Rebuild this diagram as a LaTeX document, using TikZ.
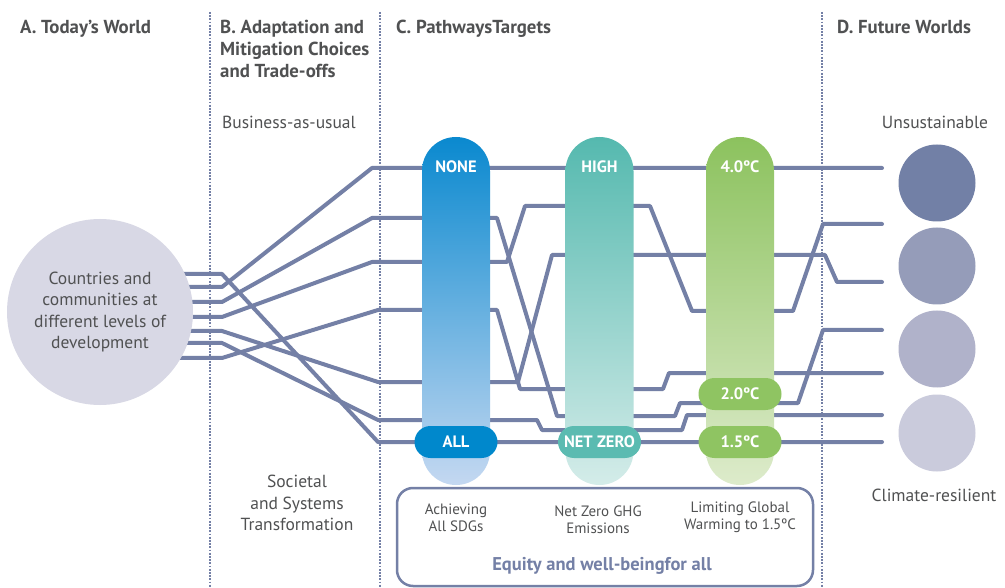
\documentclass[tikz,border=0pt]{standalone}
\usepackage{fontspec}
\setmainfont{PT Sans}
\definecolor{pathc}{HTML}{7480A6}
\definecolor{txt}{HTML}{505152}
\definecolor{todayc}{HTML}{D8D8E5}
\definecolor{bluetop}{HTML}{0A89CF}
\definecolor{bluebot}{HTML}{C4D8F1}
\definecolor{pillblue}{HTML}{0088CC}
\definecolor{tealtop}{HTML}{55B9AF}
\definecolor{tealbot}{HTML}{D4ECE9}
\definecolor{pillteal}{HTML}{5BBBB1}
\definecolor{greentop}{HTML}{8CC25E}
\definecolor{greenbot}{HTML}{DDEBCB}
\definecolor{pillgreen}{HTML}{8FC462}
\definecolor{fwa}{HTML}{7280A6}
\definecolor{fwb}{HTML}{959CB9}
\definecolor{fwc}{HTML}{B0B2CA}
\definecolor{fwd}{HTML}{CACBDC}
\newcommand\myfs[2]{\fontsize{#1}{#2}\selectfont}
\begin{document}
\begin{tikzpicture}[x=1pt,y=-1pt,
  pathway/.style={draw=pathc,line width=4pt,line cap=round,line join=round},
  divider/.style={draw=pathc,line width=2.4pt,dash pattern=on 1.8pt off 1.4pt},
  heading/.style={text=txt,font=\bfseries\myfs{18.8}{22},inner sep=0,align=left},
  label/.style={text=txt,font=\myfs{17.5}{21.5},inner sep=0,align=center},
  small/.style={text=txt,font=\myfs{15}{17},inner sep=0,align=center},
  pilltext/.style={text=white,font=\bfseries\myfs{16.5}{16},inner sep=0},
  pill/.style={rounded corners=16pt,minimum width=83pt,minimum height=32pt,text=white,font=\bfseries\myfs{16.5}{16},inner sep=0},
  world/.style={circle,minimum size=77pt,inner sep=0}]
\useasboundingbox (0,0) rectangle (1005,588);
\fill[white] (0,0) rectangle (1005,588);

% dividers
\draw[divider] (210,12) -- (210,588);
\draw[divider] (380,12) -- (380,588);
\draw[divider] (822,12) -- (822,588);

% start and end points of the pathways
\coordinate (s1) at (150,274);
\coordinate (s2) at (150,287);
\coordinate (s3) at (150,302);
\coordinate (s4) at (150,317);
\coordinate (s5) at (150,331);
\coordinate (s6) at (150,343);
\coordinate (s7) at (150,358);
\coordinate (e1) at (882,442);
\coordinate (e2) at (882,168);
\coordinate (e3) at (882,330);
\coordinate (e4) at (882,224);
\coordinate (e5) at (882,282);
\coordinate (e6) at (882,415);
\coordinate (e7) at (882,373);

% pathways
\draw[pathway] (s1) -- (222,274) -- (378,442) -- (e1);
\draw[pathway] (s2) -- (222,287) -- (372,168) -- (e2);
\draw[pathway] (s3) -- (222,302) -- (372,218) -- (497,218) -- (557,416) -- (675,416) -- (680,403) -- (798,403) -- (823,330) -- (e3);
\draw[pathway] (s4) -- (222,317) -- (372,262) -- (507,262) -- (525,206) -- (650,206) -- (692,311) -- (793,311) -- (823,224) -- (e4);
\draw[pathway] (s5) -- (222,331) -- (378,382) -- (518,382) -- (552,255) -- (825,255) -- (837,282) -- (e5);
\draw[pathway] (s6) -- (222,343) -- (378,420) -- (537,420) -- (542,430) -- (682,430) -- (687,415) -- (e6);
\draw[pathway] (s7) -- (222,358) -- (378,310) -- (497,310) -- (520,389) -- (663,389) -- (669,373) -- (e7);

% today's world
\node[circle,fill=todayc,minimum size=186pt,inner sep=0,label] (today) at (100,312)
  {Countries and\\communities at\\different levels of\\development};

% pillars
\shade[top color=bluetop,bottom color=bluebot,rounded corners=34pt] (422,137) rectangle (490,485);
\shade[top color=tealtop,bottom color=tealbot,rounded corners=34pt] (565.5,137) rectangle (633.5,485);
\shade[top color=greentop,bottom color=greenbot,rounded corners=34pt] (706,137) rectangle (774,485);

\node[pilltext] (none) at (456,167) {NONE};
\node[pilltext] (high) at (599.5,167) {HIGH};
\node[pilltext] (deg40) at (740,167) {4.0ºC};

\node[pill,fill=pillblue] (all) at (456,442) {ALL};
\node[pill,fill=pillteal] (netzero) at (599.5,442) {NET ZERO};
\node[pill,fill=pillgreen] (deg20) at (740,394) {2.0ºC};
\node[pill,fill=pillgreen] (deg15) at (740,442) {1.5ºC};

% future worlds
\node[world,fill=fwa] (w1) at (937,183) {};
\node[world,fill=fwb] (w2) at (937,266) {};
\node[world,fill=fwc] (w3) at (937,349) {};
\node[world,fill=fwd] (w4) at (937,433) {};

% headings
\node[heading,anchor=north west] (ha) at (20,19.5) {A. Today’s World};
\node[heading,anchor=north west] (hb) at (220,19.5) {B. Adaptation and\\Mitigation Choices\\and Trade-offs};
\node[heading,anchor=north west] (hc) at (396,19.5) {C. PathwaysTargets};
\node[heading,anchor=north west] (hd) at (837,19.5) {D. Future Worlds};

\node[label,anchor=west] (bau) at (222,122) {Business-as-usual};
\node[label] (unsus) at (935,122) {Unsustainable};
\node[label] (resil) at (934,495) {Climate-resilient};
\node[label] (sst) at (297,503) {Societal\\and Systems\\Transformation};

% goals box
\draw[draw=pathc,line width=2.5pt,rounded corners=16pt] (397,488) rectangle (813,586);
\node[small] (sdg) at (456,518) {Achieving\\All SDGs};
\node[small] (ghg) at (598,520) {Net Zero GHG\\Emissions};
\node[small] (lim) at (740,517) {Limiting Global\\Warming to 1.5ºC};
\node[text=pathc,font=\bfseries\myfs{18.5}{18},inner sep=0] (equity) at (602,566) {Equity and well-beingfor all};
\end{tikzpicture}
\end{document}
